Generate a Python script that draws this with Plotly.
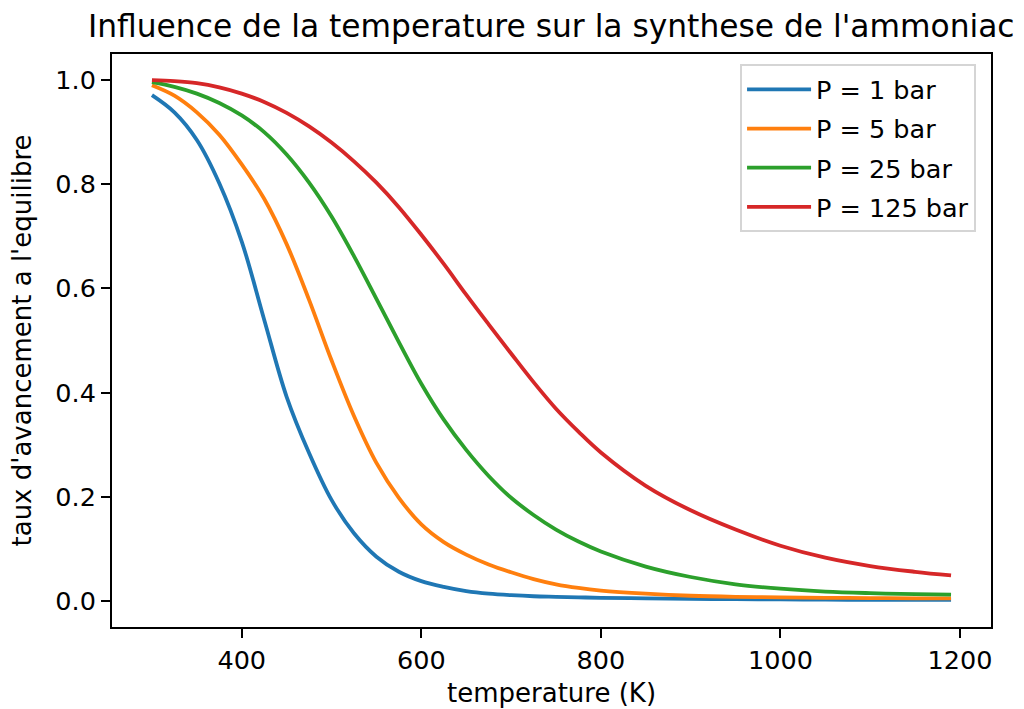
import plotly.graph_objects as go

# ---- data ----
temperature = [300, 325, 350, 375, 400, 425, 450, 475, 500, 525, 550, 575,
               600, 625, 650, 675, 700, 725, 750, 775, 800, 850,
               900, 950, 1000, 1050, 1100, 1150, 1190]

taux_1bar = [0.971, 0.938, 0.885, 0.802, 0.690, 0.540, 0.392, 0.284, 0.194, 0.130,
             0.085, 0.056, 0.038, 0.027, 0.019, 0.014, 0.011, 0.009, 0.008, 0.007,
             0.006, 0.005, 0.004, 0.0035, 0.003, 0.0025, 0.002, 0.002, 0.002]
taux_5bar = [0.990, 0.970, 0.938, 0.895, 0.838, 0.772, 0.685, 0.578, 0.462, 0.355,
             0.265, 0.198, 0.147, 0.113, 0.089, 0.070, 0.055, 0.042, 0.032, 0.025,
             0.020, 0.014, 0.010, 0.008, 0.007, 0.006, 0.0055, 0.005, 0.005]
taux_25bar = [0.996, 0.987, 0.974, 0.956, 0.932, 0.900, 0.857, 0.803, 0.738, 0.662,
              0.580, 0.497, 0.417, 0.348, 0.290, 0.240, 0.198, 0.165, 0.137, 0.114,
              0.095, 0.066, 0.046, 0.032, 0.0235, 0.018, 0.015, 0.013, 0.012]
taux_125bar = [1.000, 0.998, 0.994, 0.986, 0.974, 0.958, 0.937, 0.911, 0.880, 0.844,
               0.803, 0.756, 0.703, 0.647, 0.588, 0.531, 0.475, 0.420, 0.369, 0.325,
               0.285, 0.221, 0.174, 0.137, 0.106, 0.083, 0.067, 0.056, 0.049]

series_names = ["P = 1 bar", "P = 5 bar", "P = 25 bar", "P = 125 bar"]
series_values = [taux_1bar, taux_5bar, taux_25bar, taux_125bar]
colors = ["#1f77b4", "#ff7f0e", "#2ca02c", "#d62728"]

x_ticks = [400, 600, 800, 1000, 1200]
y_ticks = [0.0, 0.2, 0.4, 0.6, 0.8, 1.0]
y_ticktext = ["0.0", "0.2", "0.4", "0.6", "0.8", "1.0"]

title_text = "Influence de la temperature sur la synthese de l'ammoniac"
xlabel = "temperature (K)"
ylabel = "taux d'avancement a l'equilibre"

FONT = "DejaVu Sans"
TICK_SIZE = 25.5
LABEL_SIZE = 26
TITLE_SIZE = 31.3

fig = go.Figure()
for i, (name, vals, col) in enumerate(zip(series_names, series_values, colors)):
    fig.add_trace(go.Scatter(
        x=temperature, y=vals, name=name, mode="lines",
        line=dict(color=col, width=3.8, shape="spline", smoothing=1.0),
        legendgroup=f"g{i}",
    ))

axis_common = dict(
    showgrid=False, zeroline=False, showline=True, mirror=True,
    linecolor="black", linewidth=2,
    ticks="outside", ticklen=9, tickwidth=2, tickcolor="black",
    tickfont=dict(family=FONT, size=TICK_SIZE, color="black"),
    automargin=False,
)

# the page body adds an 8 px offset, so the figure is 8 px smaller
fig.update_layout(
    width=1016, height=701,
    margin=dict(l=104, r=33, t=46, b=82),
    paper_bgcolor="white", plot_bgcolor="white",
    font=dict(family=FONT, color="black"),
    xaxis=dict(range=[255.5, 1234.5], tickvals=x_ticks, **axis_common),
    yaxis=dict(range=[-0.05, 1.05], tickvals=y_ticks, ticktext=y_ticktext, **axis_common),
    showlegend=True,
    legend=dict(
        x=0.983, y=0.982, xanchor="right", yanchor="top",
        bgcolor="white", bordercolor="#d5d5d5", borderwidth=2,
        font=dict(family=FONT, size=TICK_SIZE, color="black"),
        tracegroupgap=3, itemwidth=64,
    ),
    annotations=[
        dict(text=title_text, xref="paper", yref="paper", x=0.5, y=1,
             xanchor="center", yanchor="bottom", yshift=8, showarrow=False,
             font=dict(family=FONT, size=TITLE_SIZE, color="black")),
        dict(text=xlabel, xref="paper", yref="paper", x=0.5, y=0,
             xanchor="center", yanchor="top", yshift=-49, showarrow=False,
             font=dict(family=FONT, size=LABEL_SIZE, color="black")),
        dict(text=ylabel, xref="paper", yref="paper", x=0, y=0.5,
             xanchor="right", yanchor="middle", xshift=-74, textangle=-90,
             showarrow=False,
             font=dict(family=FONT, size=LABEL_SIZE, color="black")),
    ],
)

fig.write_html("out.html")
